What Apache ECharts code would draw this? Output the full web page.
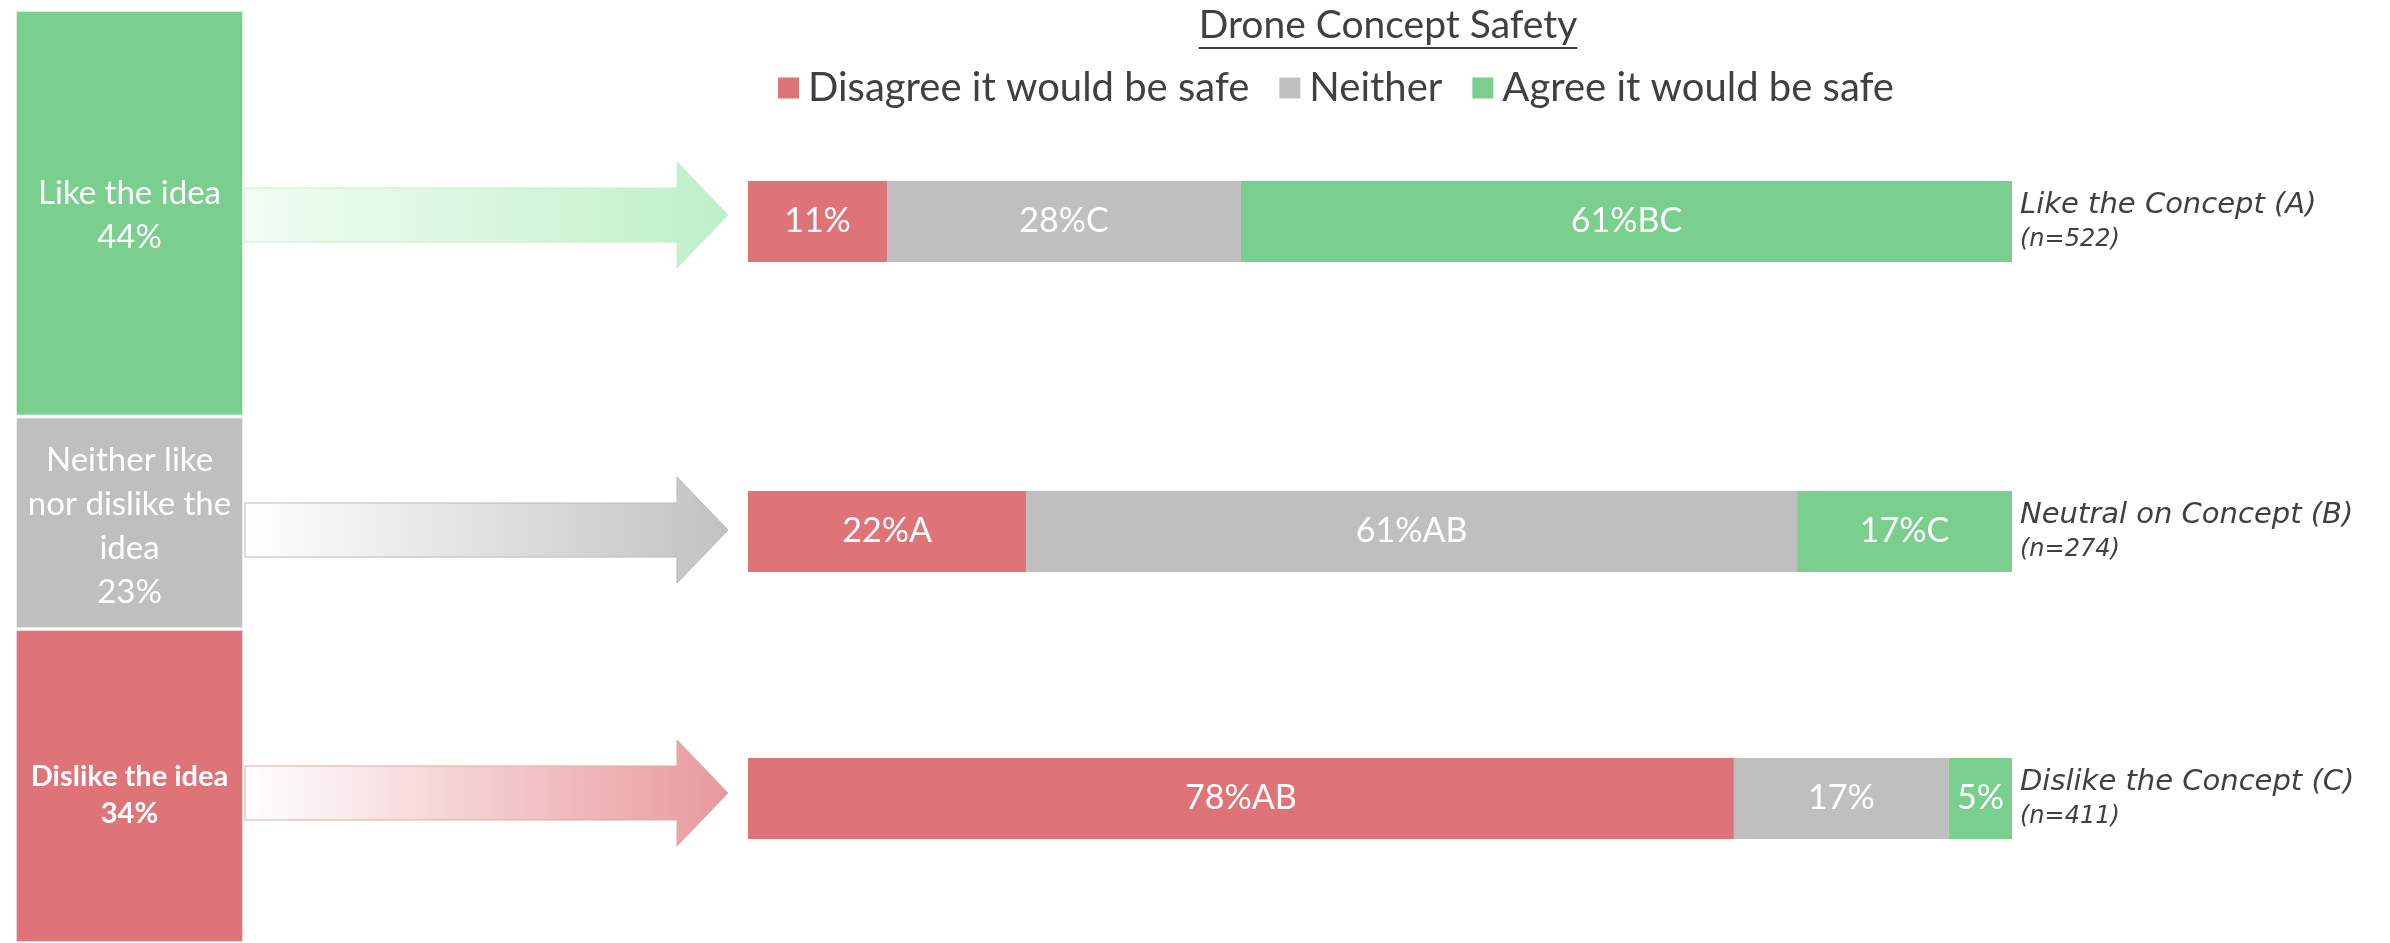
<!DOCTYPE html>
<html>
<head>
<meta charset="utf-8">
<title>Drone Concept Safety</title>
<script src="https://cdn.jsdelivr.net/npm/echarts@6/dist/echarts.min.js"></script>
<style>
  html, body { margin: 0; padding: 0; background: #fff; }
  #chart { width: 2390px; height: 943px; }
</style>
</head>
<body>
<div id="chart"></div>
<script>
// left column: how people feel about the drone idea overall
const ideaNames = ['Like the idea', 'Neither like\nnor dislike the\nidea', 'Dislike the idea'];
const ideaShares = [44, 23, 34];

// right bars: safety opinion within each group
const groups = ['Like the Concept (A)', 'Neutral on Concept (B)', 'Dislike the Concept (C)'];
const groupN = [522, 274, 411];
const safetyNames = ['Disagree it would be safe', 'Neither', 'Agree it would be safe'];
const disagree = [11, 22, 78];
const neither = [28, 61, 17];
const agree = [61, 17, 5];
// significance letters printed after the percent
const disagreeSig = ['', 'A', 'AB'];
const neitherSig = ['C', 'AB', ''];
const agreeSig = ['BC', 'C', ''];

const RED = '#DF7478';
const GRAY = '#BFBFBF';
const GREEN = '#7ACE8E';
const TXT = '#404040';
const FONT = 'Lato';

let myChart = echarts.init(document.getElementById('chart'), null, { renderer: 'canvas' });

const titleText = 'Drone Concept Safety';
const titleSize = 39;
const titleX = 1388;
let ctx = document.createElement('canvas').getContext('2d');
ctx.font = titleSize + 'px ' + FONT;
const titleW = ctx.measureText(titleText).width;

// grids: 0 = left column, 1..3 = one per group bar
const barTops = [181, 491, 758];
let grid = [{ left: 15, top: 10, width: 229, height: 936 }];
let xAxis = [{ type: 'category', gridIndex: 0, data: ['all'], show: false }];
let yAxis = [{ type: 'value', gridIndex: 0, min: 0, max: 101, inverse: true, show: false }];
let series = [];

const ideaColors = [GREEN, GRAY, RED];
const ideaOffsets = [[0, 2], [0, 4], [0, 9]];
for (let k = 0; k < ideaShares.length; k++) {
	const bold = k === 2;
	series.push({
		name: ideaNames[k],
		type: 'bar',
		xAxisIndex: 0,
		yAxisIndex: 0,
		stack: 'idea',
		barWidth: '100%',
		data: [ideaShares[k]],
		itemStyle: { color: ideaColors[k], borderColor: 'rgba(255,255,255,0.7)', borderWidth: 2 },
		label: {
			show: true,
			position: 'inside',
			offset: ideaOffsets[k],
			color: '#fff',
			fontFamily: FONT,
			fontSize: bold ? 29 : 33,
			fontWeight: bold ? 'bold' : 'normal',
			lineHeight: bold ? 37 : 44,
			formatter: (p) => ideaNames[k] + '\n' + p.value + '%',
		},
		silent: true,
	});
}

const safetyData = [disagree, neither, agree];
const safetySig = [disagreeSig, neitherSig, agreeSig];
const safetyColors = [RED, GRAY, GREEN];

for (let i = 0; i < groups.length; i++) {
	grid.push({ left: 748, width: 1264, top: barTops[i], height: 81 });
	xAxis.push({ type: 'value', gridIndex: i + 1, min: 0, max: 100, show: false });
	yAxis.push({
		type: 'category',
		gridIndex: i + 1,
		data: [groups[i]],
		position: 'right',
		axisLine: { show: false },
		axisTick: { show: false },
		splitLine: { show: false },
		axisLabel: {
			margin: 8,
			formatter: (v) => '{a|' + v + '}\n{b|(n=' + groupN[i] + ')}',
			rich: {
				a: { fontFamily: 'DejaVu Sans', fontStyle: 'italic', fontSize: 29, color: TXT, lineHeight: 37 },
				b: { fontFamily: 'DejaVu Sans', fontStyle: 'italic', fontSize: 24, color: TXT, lineHeight: 33 },
			},
		},
	});
	for (let s = 0; s < safetyNames.length; s++) {
		series.push({
			name: safetyNames[s],
			type: 'bar',
			xAxisIndex: i + 1,
			yAxisIndex: i + 1,
			stack: 'g' + i,
			barWidth: '100%',
			data: [safetyData[s][i]],
			itemStyle: { color: safetyColors[s] },
			label: {
				show: true,
				position: 'inside',
				color: '#fff',
				fontFamily: FONT,
				fontSize: 34,
				formatter: (p) => p.value + '%' + safetySig[s][i],
			},
		});
	}
}

// decorative arrows from the left column to each bar
function arrow(yMid, from, to, border) {
	const x0 = 245, xHead = 677, xTip = 728, sh = 27, hh = 53;
	return {
		type: 'polygon',
		shape: {
			points: [
				[x0, yMid - sh], [xHead, yMid - sh], [xHead, yMid - hh], [xTip, yMid],
				[xHead, yMid + hh], [xHead, yMid + sh], [x0, yMid + sh],
			],
		},
		style: {
			fill: {
				type: 'linear', x: 0, y: 0, x2: 1, y2: 0,
				colorStops: [{ offset: 0, color: from }, { offset: 1, color: to }],
			},
			stroke: border,
			lineWidth: 1,
		},
		silent: true,
	};
}

let option = {
	backgroundColor: '#fff',
	animation: false,
	title: {
		text: titleText,
		left: titleX,
		textAlign: 'center',
		top: 6,
		padding: 0,
		textStyle: { fontFamily: FONT, fontSize: titleSize, fontWeight: 'normal', color: TXT },
	},
	legend: {
		data: safetyNames,
		left: 778,
		top: 68,
		padding: 0,
		icon: 'rect',
		itemWidth: 21,
		itemHeight: 21,
		itemGap: 30,
		textStyle: { fontFamily: FONT, fontSize: 40, color: TXT, padding: [0, 0, 0, 4] },
	},
	grid: grid,
	xAxis: xAxis,
	yAxis: yAxis,
	series: series,
	graphic: [
		arrow(215, '#f2fdf4', '#bdf0c8', '#c9e9d1'),
		arrow(530, '#ffffff', '#c2c2c2', '#b9b9b9'),
		arrow(793, '#ffffff', '#e8999d', '#d9a9ab'),
		{
			type: 'line',
			shape: { x1: titleX - titleW / 2, y1: 48, x2: titleX + titleW / 2, y2: 48 },
			style: { stroke: TXT, lineWidth: 2 },
			silent: true,
		},
	],
};

myChart.setOption(option);
window.addEventListener('resize', () => {
	myChart.resize();
});
</script>
</body>
</html>
